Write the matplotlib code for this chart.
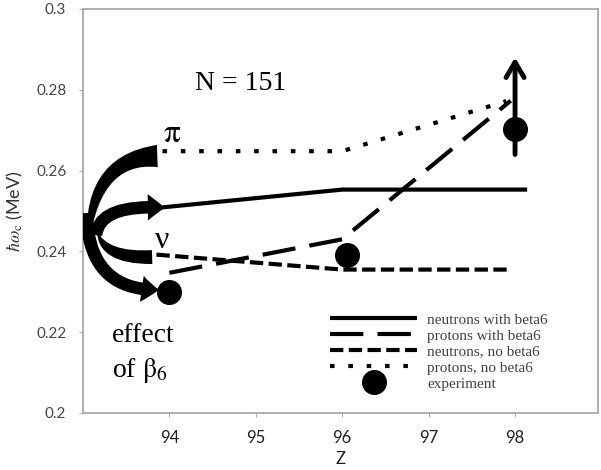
import matplotlib
matplotlib.use("Agg")
import matplotlib.pyplot as plt
from matplotlib.patches import FancyArrowPatch
from matplotlib.path import Path

plt.rcParams['mathtext.fontset'] = 'stix'

# ---- data ----
z_nb6 = [93.92, 96.0, 98.14]          # neutrons with beta6
w_nb6 = [0.2509, 0.2553, 0.2553]
z_pb6 = [94.0, 96.0, 97.95]           # protons with beta6
w_pb6 = [0.2347, 0.2430, 0.2773]
z_nno = [93.85, 96.0, 97.92]          # neutrons, no beta6
w_nno = [0.2392, 0.2355, 0.2355]
z_pno = [93.92, 96.0, 97.9]           # protons, no beta6
w_pno = [0.2648, 0.2648, 0.2772]
z_exp = [94.0, 96.05, 98.0]           # experiment
w_exp = [0.2300, 0.2392, 0.2702]
exp_lo_98 = 0.2640
exp_hi_98 = 0.2880

xticks = [94, 95, 96, 97, 98]
yticks = [0.2, 0.22, 0.24, 0.26, 0.28, 0.3]
ytick_labels = ["0.2", "0.22", "0.24", "0.26", "0.28", "0.3"]
labels = ["neutrons with beta6", "protons with beta6", "neutrons, no beta6",
          "protons, no beta6", "experiment"]

fig = plt.figure(figsize=(6.01, 4.70), dpi=100)
ax = fig.add_axes([83/601, 1-413/470, 515/601, 404/470])
ax.set_xlim(93, 98.96)
ax.set_ylim(0.2, 0.3)

lw = 3.0
l1, = ax.plot(z_nb6, w_nb6, color='black', lw=lw, solid_capstyle='butt')
l2, = ax.plot(z_pb6, w_pb6, color='black', lw=lw, dashes=(8, 3.4), dash_capstyle='butt')
l3, = ax.plot(z_nno, w_nno, color='black', lw=lw, dashes=(3.2, 1.3), dash_capstyle='butt')
l4, = ax.plot(z_pno, w_pno, color='black', lw=lw, dashes=(1.1, 3.3), dash_capstyle='butt')

# upward arrow (lower limit) on the Z=98 experiment point
ax.annotate('', xy=(z_exp[2], exp_hi_98), xytext=(z_exp[2], exp_lo_98),
            arrowprops=dict(arrowstyle='->,head_length=1.1,head_width=0.65',
                            lw=3.5, color='black', shrinkA=0, shrinkB=0),
            zorder=4)
l5, = ax.plot(z_exp, w_exp, 'o', color='black', ms=17, zorder=5, linestyle='none')

# ---- curved "effect of beta6" arrows ----
def curve(p0, c, p1, style, ms):
    path = Path([p0, c, p1], [Path.MOVETO, Path.CURVE3, Path.CURVE3])
    a = FancyArrowPatch(path=path, arrowstyle=style, mutation_scale=ms,
                        color='black', lw=0, zorder=6)
    ax.add_patch(a)

# pi crescent (blunt end at protons-no-beta6 start)
curve((93.86, 0.2636), (93.04, 0.2630), (93.06, 0.2390),
      'wedge,tail_width=0.8,shrink_factor=0.55', 20)
# nu crescent (blunt end at neutrons-no-beta6 start)
curve((93.80, 0.2386), (93.22, 0.2382), (93.16, 0.2452),
      'wedge,tail_width=0.5,shrink_factor=0.75', 20)
# middle arrow to neutrons-with-beta6 start
curve((93.15, 0.2440), (93.19, 0.2518), (93.95, 0.2508),
      'simple,head_length=0.62,head_width=0.95,tail_width=0.45', 20)
# lower arrow to experiment at Z=94
curve((93.04, 0.2495), (93.06, 0.2302), (93.88, 0.2305),
      'simple,head_length=0.62,head_width=0.95,tail_width=0.45', 20)

serif = 'Liberation Serif'
ax.text(94.30, 0.2800, 'N = 151', family=serif, fontsize=20, color='black')
ax.text(93.93, 0.2671, 'π', family='STIXGeneral', fontsize=24, color='black')
ax.text(93.83, 0.2408, 'ν', family=serif, fontsize=23, color='black')
ax.text(93.335, 0.2176, 'effect', family=serif, fontsize=20, color='black')
ax.text(93.335, 0.2089, r'of $\mathrm{\beta}_6$', family=serif, fontsize=20, color='black')

# ---- axes styling ----
for s in ax.spines.values():
    s.set_color('#a8a8a8')
    s.set_linewidth(1.3)
ax.set_xticks(xticks)
ax.set_yticks(yticks)
ax.set_yticklabels(ytick_labels)
ax.tick_params(axis='y', length=3, color='#b0b0b0', pad=9,
               labelsize=11, labelcolor='#454545')
ax.tick_params(axis='x', length=3, color='#b0b0b0', pad=9,
               labelsize=12, labelcolor='#202020')
for t in ax.get_xticklabels() + ax.get_yticklabels():
    t.set_family('Lato')
ax.set_xlabel('Z', family='Lato', fontsize=12, color='#202020', labelpad=4)
ax.set_ylabel(r'$\hbar\omega_{\rm c}$ (MeV)', family='Lato', fontsize=13,
              color='#303030', labelpad=8)

leg = ax.legend([l1, l2, l3, l4, l5], labels, loc='upper left',
                bbox_to_anchor=(0.4796, 0.2475), frameon=False,
                borderpad=0, borderaxespad=0, handlelength=5.7,
                handletextpad=0.65, labelspacing=0.15, numpoints=1,
                prop={'family': serif, 'size': 11})
for t in leg.get_texts():
    t.set_color('#404040')

fig.savefig('out.png', dpi=100)
